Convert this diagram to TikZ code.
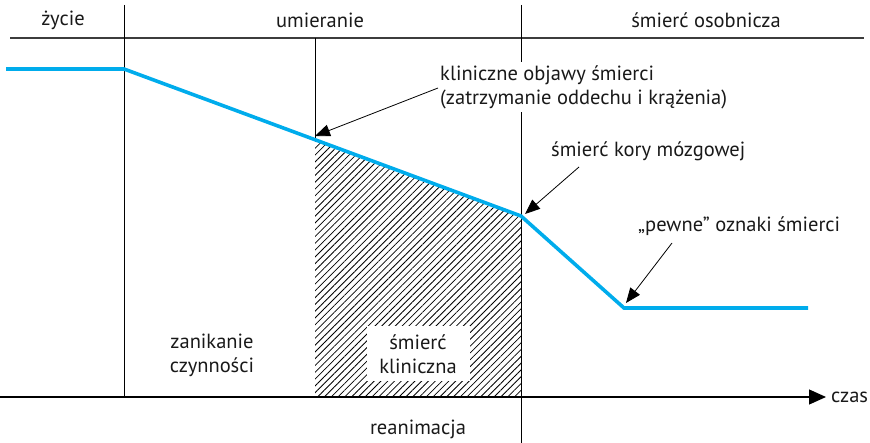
\documentclass[tikz,border=0pt]{standalone}
\usepackage{fontspec}
\setmainfont{PT Sans}
\usetikzlibrary{arrows.meta,patterns.meta}
\definecolor{curveblue}{RGB}{0,172,236}
\definecolor{rulegray}{RGB}{60,60,60}
\begin{document}
\begin{tikzpicture}[x=1pt,y=-1pt,
  lbl/.style={font=\fontsize{20.5}{24}\selectfont, inner sep=1pt, text=black!90},
  ptr/.style={-{Triangle[length=15pt,width=12pt]}, line width=0.8pt},
  thinline/.style={line width=0.9pt, black},
  curveline/.style={line width=3.6pt, curveblue, line join=miter, line cap=butt}]
\useasboundingbox (0,0) rectangle (870,443);
% named points
\coordinate (c0) at (6,69);
\coordinate (c1) at (124,69);
\coordinate (cmid) at (315,140);
\coordinate (c2) at (521,216);
\coordinate (c3) at (624,308);
\coordinate (c4) at (808,308);
\coordinate (ax0) at (0,397);
\coordinate (ax1) at (826,397);
\coordinate (tl0) at (10,38);
\coordinate (tl1) at (864,38);
% hatched area
\fill[pattern={Lines[angle=45,distance=4.8pt,line width=0.8pt]}]
  (cmid) -- (c2) -- (521,397) -- (315,397) -- cycle;
% lines
\draw[line width=1.3pt, rulegray] (tl0) -- (tl1);
\draw[thinline] (124,5) -- (124,397);
\draw[thinline] (315,38) -- (cmid);
\draw[thinline] (521,5) -- (521,443);
\draw[line width=1.3pt, -{Triangle[length=17pt,width=15pt]}] (ax0) -- (ax1);
% curve
\draw[curveline] (c0) -- (c1) -- (c2) -- (c3) -- (c4);
% labels
\node[lbl] (zycie) at (63,20) {życie};
\node[lbl] (umier) at (320,20) {umieranie};
\node[lbl] (osob) at (706,20) {śmierć osobnicza};
\node[lbl, anchor=west, align=left, fill=white, inner sep=3pt] (klin) at (437,87)
  {kliniczne objawy śmierci\\(zatrzymanie oddechu i krążenia)};
\node[lbl, anchor=west] (kora) at (550,151) {śmierć kory mózgowej};
\node[lbl, anchor=west] (pewne) at (637,226) {„pewne” oznaki śmierci};
\node[lbl, align=center] (zanik) at (212,355) {zanikanie\\czynności};
\node[lbl, align=center, fill=white, minimum width=103pt, minimum height=55pt] (sk) at (418,354) {śmierć\\kliniczna};
\node[lbl] (rean) at (418,429) {reanimacja};
\node[lbl, anchor=west] (czas) at (830,397) {czas};
% pointer arrows
\coordinate (a1s) at (438,88);
\coordinate (a1e) at (315,136);
\coordinate (a2s) at (579,167);
\coordinate (a2e) at (525,214);
\coordinate (a3s) at (672,243);
\coordinate (a3e) at (626,303);
\draw[ptr] (a1s) -- (a1e);
\draw[ptr] (a2s) -- (a2e);
\draw[ptr] (a3s) -- (a3e);
\end{tikzpicture}
\end{document}
